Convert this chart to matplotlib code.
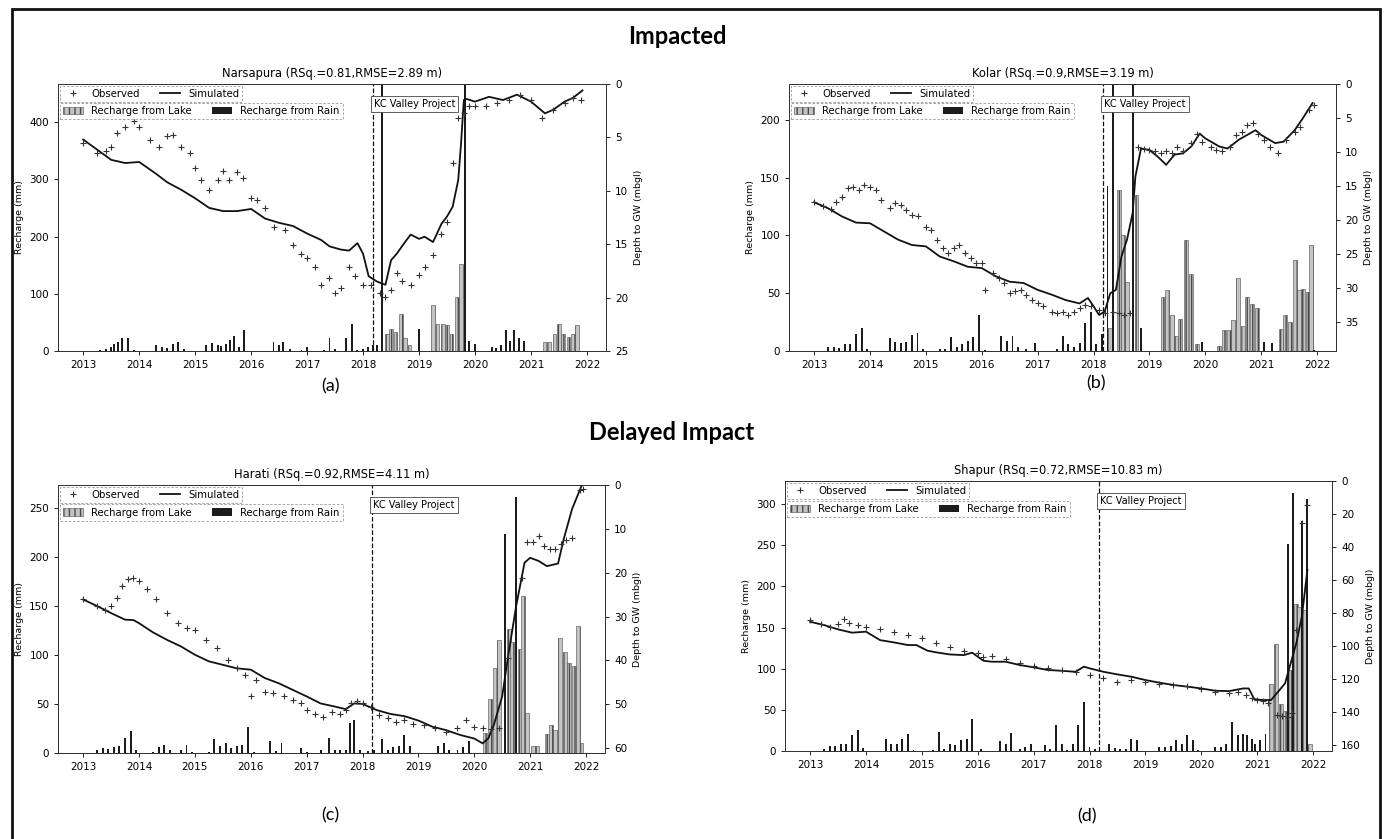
import matplotlib
matplotlib.use('Agg')
import matplotlib.pyplot as plt
from matplotlib.patches import Patch, Rectangle
from matplotlib.lines import Line2D

# ---------------- data ----------------
# depth to GW (m below ground) on the right axis, recharge (mm) on the left

# (a) Narsapura
a_sim_t = [2013.0, 2013.5, 2013.75, 2014.0, 2014.3, 2014.5, 2014.75, 2015.0, 2015.25, 2015.5, 2015.75,
           2016.0, 2016.25, 2016.5, 2016.75, 2017.0, 2017.25, 2017.4, 2017.6, 2017.75, 2017.9,
           2018.0, 2018.1, 2018.25, 2018.4, 2018.5, 2018.6, 2018.75, 2018.85, 2019.0, 2019.1, 2019.25,
           2019.4, 2019.5, 2019.6, 2019.7, 2019.75, 2019.8, 2019.85, 2020.0, 2020.25, 2020.5, 2020.75,
           2021.0, 2021.25, 2021.4, 2021.6, 2021.75, 2021.92]
a_sim_d = [5.2, 7.1, 7.4, 7.3, 8.4, 9.2, 9.9, 10.7, 11.6, 11.9, 11.9,
           11.7, 12.6, 13.0, 13.3, 14.0, 14.6, 15.2, 15.5, 15.6, 14.9,
           15.9, 18.0, 18.5, 18.8, 16.5, 15.9, 14.8, 14.1, 14.5, 14.3, 14.8,
           13.1, 12.4, 11.5, 9.0, 5.6, 1.5, 1.4, 1.65, 1.2, 1.5, 1.0,
           1.65, 2.75, 2.4, 1.65, 1.3, 0.6]
a_obs_t = [2013.0, 2013.25, 2013.4, 2013.5, 2013.6, 2013.75, 2013.9, 2014.0, 2014.2, 2014.35, 2014.5,
           2014.6, 2014.75, 2014.9, 2015.0, 2015.1, 2015.25, 2015.4, 2015.5, 2015.6, 2015.75, 2015.85,
           2016.0, 2016.1, 2016.25, 2016.4, 2016.6, 2016.75, 2016.9, 2017.0, 2017.15, 2017.25, 2017.4,
           2017.5, 2017.6, 2017.75, 2017.85, 2018.0, 2018.15, 2018.3, 2018.4, 2018.5, 2018.6, 2018.7,
           2018.85, 2019.0, 2019.1, 2019.25, 2019.4, 2019.5, 2019.6, 2019.7, 2019.8, 2019.9, 2020.0,
           2020.2, 2020.4, 2020.6, 2020.8, 2021.0, 2021.2, 2021.4, 2021.6, 2021.75, 2021.9]
a_obs_d = [5.5, 6.5, 6.3, 5.9, 4.6, 4.0, 3.5, 4.0, 5.2, 5.9, 4.9,
           4.8, 5.9, 6.5, 7.9, 9.0, 9.9, 9.0, 8.1, 9.0, 8.2, 8.8,
           10.7, 10.9, 11.6, 13.4, 13.7, 15.1, 15.9, 16.3, 17.1, 18.8, 18.2,
           19.6, 19.1, 17.1, 18.0, 18.8, 18.8, 19.6, 19.9, 19.3, 17.7, 18.4,
           18.8, 17.9, 17.1, 16.0, 14.0, 12.9, 7.4, 3.2, 2.7, 2.1, 2.1,
           2.1, 1.8, 1.5, 1.0, 1.5, 3.2, 2.4, 1.8, 1.3, 1.5]
a_rain_t = [2013.3, 2013.4, 2013.5, 2013.55, 2013.62, 2013.7, 2013.8, 2013.9, 2014.3, 2014.4, 2014.5,
            2014.6, 2014.7, 2014.8, 2015.2, 2015.3, 2015.4, 2015.47, 2015.55, 2015.62, 2015.7, 2015.78,
            2015.88, 2016.4, 2016.5, 2016.57, 2016.7, 2016.9, 2017.0, 2017.3, 2017.4, 2017.5, 2017.7,
            2017.8, 2017.9, 2018.0, 2018.08, 2018.17, 2018.25, 2018.33, 2019.0, 2019.82, 2019.9, 2020.0,
            2020.3, 2020.38, 2020.46, 2020.55, 2020.62, 2020.7, 2020.78, 2020.87]
a_rain_v = [2, 4, 7, 13, 16, 22, 22, 2, 10, 7, 6,
            13, 16, 4, 10, 14, 10, 8, 13, 19, 26, 7,
            36, 16, 10, 16, 4, 2, 7, 2, 23, 4, 22,
            48, 2, 4, 7, 10, 10, 520, 39, 520, 17, 13,
            7, 6, 10, 36, 17, 36, 23, 17]
a_lake_t = [2018.42, 2018.5, 2018.58, 2018.67, 2018.75, 2018.83, 2019.25, 2019.33, 2019.42, 2019.5,
            2019.58, 2019.67, 2019.75, 2021.25, 2021.33, 2021.42, 2021.5, 2021.58, 2021.67, 2021.75, 2021.83]
a_lake_v = [30, 39, 33, 65, 23, 10, 80, 48, 47, 45,
            30, 95, 153, 16, 16, 30, 48, 30, 25, 30, 45]

# (b) Kolar
b_sim_t = [2013.0, 2013.25, 2013.5, 2013.75, 2014.0, 2014.25, 2014.5, 2014.75, 2015.0, 2015.25,
           2015.5, 2015.75, 2016.0, 2016.25, 2016.5, 2016.75, 2017.0, 2017.25, 2017.5, 2017.75,
           2017.9, 2018.0, 2018.1, 2018.2, 2018.3, 2018.4, 2018.5, 2018.6, 2018.7, 2018.75,
           2018.85, 2019.0, 2019.15, 2019.3, 2019.45, 2019.6, 2019.75, 2019.9, 2020.0, 2020.25,
           2020.4, 2020.6, 2020.75, 2020.9, 2021.0, 2021.25, 2021.4, 2021.6, 2021.75, 2021.92]
b_sim_d = [17.4, 18.3, 19.5, 20.4, 20.5, 21.7, 22.9, 23.7, 23.9, 25.4,
           26.1, 26.9, 27.1, 28.3, 29.1, 29.3, 30.3, 31.0, 31.8, 32.3,
           31.5, 32.7, 34.0, 33.5, 30.8, 30.3, 25.4, 22.9, 19.0, 13.6,
           9.5, 9.7, 10.7, 11.9, 10.4, 10.2, 9.2, 7.3, 8.0, 9.2,
           9.5, 8.2, 7.5, 6.8, 7.5, 8.7, 8.5, 6.8, 5.0, 2.8]
b_obs_t = [2013.0, 2013.15, 2013.3, 2013.4, 2013.5, 2013.6, 2013.7, 2013.8, 2013.9,
           2014.0, 2014.1, 2014.2, 2014.35, 2014.45, 2014.55, 2014.65, 2014.75, 2014.85,
           2015.0, 2015.1, 2015.2, 2015.3, 2015.4, 2015.5, 2015.6, 2015.7, 2015.8, 2015.9,
           2016.0, 2016.05, 2016.2, 2016.3, 2016.4, 2016.5, 2016.6, 2016.7, 2016.8, 2016.9,
           2017.0, 2017.1, 2017.25, 2017.35, 2017.45, 2017.55, 2017.65, 2017.75, 2017.85, 2017.95,
           2018.1, 2018.2, 2018.35, 2018.45, 2018.55, 2018.65, 2018.8, 2018.9,
           2019.0, 2019.1, 2019.2, 2019.3, 2019.4, 2019.5, 2019.6, 2019.75, 2019.85, 2019.95,
           2020.1, 2020.2, 2020.3, 2020.45, 2020.55, 2020.65, 2020.75, 2020.85, 2020.95,
           2021.05, 2021.15, 2021.3, 2021.45, 2021.6, 2021.7, 2021.85, 2021.95]
b_obs_d = [17.4, 17.9, 18.4, 17.3, 16.6, 15.3, 15.1, 15.6, 14.9,
           15.1, 15.6, 17.1, 18.3, 17.5, 17.8, 18.5, 19.3, 19.4,
           21.0, 21.5, 22.9, 24.2, 24.9, 24.2, 23.7, 24.9, 25.6, 26.4,
           26.4, 30.3, 27.8, 28.6, 29.3, 30.8, 30.5, 30.3, 31.0, 31.8,
           32.3, 32.7, 33.5, 33.7, 33.5, 34.0, 33.5, 33.0, 32.5, 32.7,
           33.2, 33.7, 33.5, 33.7, 34.0, 33.7, 9.2, 9.5,
           9.7, 9.9, 10.2, 9.9, 10.2, 9.2, 9.9, 8.7, 7.3, 8.5,
           9.2, 9.7, 9.9, 9.2, 7.5, 7.0, 6.0, 5.8, 7.3,
           8.2, 9.2, 10.2, 8.2, 7.0, 6.3, 3.8, 3.1]
b_rain_t = [2013.25, 2013.35, 2013.45, 2013.55, 2013.65, 2013.75, 2013.85, 2013.95,
            2014.35, 2014.45, 2014.55, 2014.65, 2014.75, 2014.85, 2014.95,
            2015.25, 2015.35, 2015.45, 2015.55, 2015.65, 2015.75, 2015.85, 2015.95,
            2016.05, 2016.35, 2016.45, 2016.55, 2016.65, 2016.8, 2016.95,
            2017.35, 2017.45, 2017.55, 2017.65, 2017.75, 2017.85, 2017.95,
            2018.05, 2018.15, 2018.25, 2018.35, 2018.7, 2018.85, 2019.95, 2021.05, 2021.2, 2021.95]
b_rain_v = [3.5, 3.5, 3, 6, 6, 15, 20, 2,
            11, 8, 7, 8, 14, 16, 2,
            2, 2, 12, 3.5, 6, 9, 12, 31,
            1, 13, 9, 13, 3.5, 2, 7,
            2, 13, 6, 3.5, 7, 24, 34,
            6, 15, 143, 260, 260, 20, 8, 8, 7, 1]
b_lake_t = [2018.3, 2018.45, 2018.52, 2018.6, 2018.77,
            2019.25, 2019.32, 2019.4, 2019.47, 2019.55, 2019.65, 2019.75, 2019.85,
            2020.25, 2020.33, 2020.42, 2020.5, 2020.58, 2020.67, 2020.75, 2020.83, 2020.92,
            2021.35, 2021.43, 2021.52, 2021.6, 2021.68, 2021.75, 2021.83, 2021.9]
b_lake_v = [20, 139, 100, 60, 135,
            47, 53, 31, 13, 28, 96, 67, 6,
            4, 18, 18, 27, 63, 22, 47, 41, 37,
            19, 31, 25, 79, 53, 54, 51, 92]

# (c) Harati
c_sim_t = [2013.0, 2013.25, 2013.5, 2013.75, 2013.9, 2014.0, 2014.25, 2014.5, 2014.75,
           2015.0, 2015.25, 2015.5, 2015.75, 2016.0, 2016.25, 2016.5, 2016.75,
           2017.0, 2017.25, 2017.5, 2017.7, 2017.85, 2018.0, 2018.25, 2018.5, 2018.75,
           2019.0, 2019.25, 2019.5, 2019.75, 2020.0, 2020.15, 2020.25, 2020.35, 2020.5, 2020.6,
           2020.75, 2020.9, 2021.0, 2021.15, 2021.3, 2021.5, 2021.6, 2021.75, 2021.92]
c_sim_d = [26.1, 27.6, 29.2, 30.7, 30.8, 31.5, 33.6, 35.3, 36.8,
           38.7, 40.2, 41.0, 41.8, 42.1, 44.0, 45.2, 46.7,
           48.2, 49.8, 50.5, 51.1, 49.8, 49.9, 51.3, 52.2, 52.7,
           53.7, 55.1, 55.9, 57.0, 57.8, 58.9, 57.8, 54.7, 48.2, 39.5,
           27.6, 17.7, 16.6, 17.3, 18.5, 17.9, 12.4, 5.5, 0.2]
c_obs_t = [2013.0, 2013.25, 2013.4, 2013.5, 2013.6, 2013.7, 2013.8, 2013.9,
           2014.0, 2014.15, 2014.3, 2014.5, 2014.7, 2014.85,
           2015.0, 2015.2, 2015.4, 2015.6, 2015.75, 2015.9,
           2016.0, 2016.1, 2016.25, 2016.4, 2016.6, 2016.75, 2016.9,
           2017.0, 2017.15, 2017.3, 2017.45, 2017.6, 2017.7, 2017.8, 2017.9,
           2018.0, 2018.15, 2018.3, 2018.45, 2018.6, 2018.75, 2018.9,
           2019.1, 2019.3, 2019.5, 2019.7, 2019.85,
           2020.0, 2020.15, 2020.3, 2020.45, 2020.6, 2020.85, 2020.95,
           2021.05, 2021.15, 2021.25, 2021.35, 2021.45, 2021.55, 2021.65, 2021.75, 2021.9, 2021.95]
c_obs_d = [26.1, 27.6, 28.4, 27.6, 25.7, 23.1, 21.5, 21.1,
           21.9, 23.8, 26.1, 29.2, 31.5, 32.6,
           33.0, 35.3, 37.2, 39.8, 41.8, 43.3,
           48.2, 44.5, 47.1, 47.5, 48.1, 49.0, 49.8,
           51.3, 52.1, 52.8, 51.7, 52.1, 51.3, 49.8, 49.2,
           49.8, 50.5, 52.4, 53.2, 54.0, 53.6, 54.4,
           54.7, 55.5, 56.3, 55.5, 53.6,
           55.1, 55.5, 55.7, 55.5, 39.5, 21.1, 13.0,
           13.1, 11.6, 13.9, 14.7, 14.7, 13.5, 12.5, 12.0, 1.1, 0.9]
c_rain_t = [2013.25, 2013.35, 2013.45, 2013.55, 2013.65, 2013.75, 2013.85, 2013.95,
            2014.25, 2014.35, 2014.45, 2014.55, 2014.75, 2014.85, 2014.95,
            2015.25, 2015.35, 2015.45, 2015.55, 2015.65, 2015.75, 2015.85, 2015.95,
            2016.05, 2016.35, 2016.45, 2016.55, 2016.9,
            2017.0, 2017.25, 2017.4, 2017.5, 2017.6, 2017.7, 2017.77, 2017.85, 2017.95,
            2018.1, 2018.2, 2018.35, 2018.45, 2018.55, 2018.65, 2018.75, 2018.85,
            2019.35, 2019.45, 2019.55, 2019.7, 2019.8, 2019.9, 2020.55, 2020.75]
c_rain_v = [3.4, 5, 4, 6, 7, 15, 22, 3,
            1, 6, 8.5, 3.4, 3, 8.5, 1,
            1, 14, 7, 10, 5, 7.5, 8.5, 27,
            1, 12, 2, 10, 5,
            1, 3, 15, 3, 3, 3, 31, 34, 3,
            2, 3, 14, 3, 6, 7, 18, 7.5,
            7, 10, 3, 3, 6, 12, 224, 262]
c_lake_t = [2020.2, 2020.28, 2020.37, 2020.45, 2020.62, 2020.68, 2020.82, 2020.88, 2020.95,
            2021.05, 2021.12, 2021.3, 2021.38, 2021.45, 2021.53, 2021.62, 2021.7, 2021.78, 2021.85, 2021.92]
c_lake_v = [20, 55, 87, 116, 127, 113, 106, 161, 41,
            7, 7, 19, 29, 24, 118, 103, 92, 89, 130, 10]

# (d) Shapur
d_sim_t = [2013.0, 2013.25, 2013.5, 2013.75, 2014.0, 2014.25, 2014.5, 2014.75, 2014.9,
           2015.1, 2015.25, 2015.5, 2015.75, 2015.9, 2016.1, 2016.25, 2016.5, 2016.75,
           2017.0, 2017.25, 2017.5, 2017.75, 2017.9, 2018.0, 2018.25, 2018.5, 2018.75,
           2019.0, 2019.25, 2019.5, 2019.75, 2020.0, 2020.25, 2020.5, 2020.75, 2020.85, 2020.95,
           2021.1, 2021.25, 2021.4, 2021.5, 2021.6, 2021.7, 2021.8, 2021.9]
d_sim_d = [85.3, 87.3, 89.9, 91.9, 91.3, 96.4, 97.8, 99.4, 99.4,
           102.8, 103.8, 105.1, 105.5, 104.0, 108.9, 109.5, 109.5, 111.5,
           112.9, 114.5, 115.0, 115.6, 112.5, 113.5, 115.6, 117.2, 118.6,
           120.6, 122.2, 123.6, 124.6, 125.7, 127.1, 127.3, 125.7, 125.7, 132.3,
           132.7, 132.7, 126.7, 122.6, 110.5, 98.4, 82.2, 53.9]
d_obs_t = [2013.0, 2013.2, 2013.35, 2013.5, 2013.6, 2013.7, 2013.85,
           2014.0, 2014.25, 2014.5, 2014.75, 2015.0, 2015.25, 2015.5, 2015.75,
           2016.0, 2016.1, 2016.25, 2016.5, 2016.75, 2017.0, 2017.25, 2017.5, 2017.75,
           2018.0, 2018.25, 2018.5, 2018.75, 2019.0, 2019.25, 2019.5, 2019.75,
           2020.0, 2020.25, 2020.5, 2020.65, 2020.8, 2020.9,
           2021.0, 2021.1, 2021.2, 2021.35, 2021.45, 2021.55, 2021.62, 2021.7, 2021.8, 2021.9]
d_obs_d = [84.2, 86.7, 88.3, 86.7, 83.8, 86.3, 87.3,
           88.3, 89.9, 91.3, 93.3, 95.4, 98.4, 100.8, 102.8,
           104.4, 106.5, 106.1, 108.1, 110.1, 112.1, 113.5, 114.5, 115.6,
           117.6, 119.6, 121.6, 120.6, 121.6, 123.0, 123.6, 124.2,
           126.3, 127.7, 128.3, 127.7, 129.7, 131.7,
           132.7, 133.1, 134.7, 141.8, 142.4, 142.8, 140.8, 90.3, 25.7, 14.5]
d_rain_t = [2013.25, 2013.35, 2013.45, 2013.55, 2013.65, 2013.75, 2013.85, 2013.95,
            2014.35, 2014.45, 2014.55, 2014.65, 2014.75, 2014.85,
            2015.2, 2015.3, 2015.4, 2015.5, 2015.6, 2015.7, 2015.8, 2015.9,
            2016.05, 2016.4, 2016.5, 2016.6, 2016.75, 2016.85, 2016.95,
            2017.2, 2017.3, 2017.4, 2017.5, 2017.6, 2017.7, 2017.8, 2017.9,
            2018.0, 2018.1, 2018.35, 2018.45, 2018.55, 2018.65, 2018.75, 2018.85,
            2019.25, 2019.35, 2019.45, 2019.55, 2019.65, 2019.75, 2019.85, 2019.95,
            2020.25, 2020.35, 2020.45, 2020.55, 2020.65, 2020.75, 2020.82, 2020.9, 2020.97,
            2021.05, 2021.15, 2021.55, 2021.65, 2021.8, 2021.9]
d_rain_v = [3, 6, 6, 9, 9, 19, 26, 4,
            15, 9, 9, 15, 21, 1,
            1, 23, 3, 9, 7, 13, 15, 39,
            2, 12, 8, 22, 3, 5, 9,
            7, 2, 32, 9, 1, 9, 31, 59,
            5, 2, 9, 4, 3, 3, 15, 13,
            5, 5, 6, 13, 9, 19, 13, 1,
            5, 5, 9, 35, 19, 21, 19, 15, 9,
            13, 21, 252, 313, 280, 306]
d_lake_t = [2021.25, 2021.33, 2021.42, 2021.5, 2021.6, 2021.7, 2021.75, 2021.85, 2021.95]
d_lake_v = [82, 130, 57, 49, 98, 179, 175, 171, 9]

kc_year = 2018.17
years = list(range(2013, 2023))

# ---------------- drawing ----------------
W, H = 1385, 839
fig = plt.figure(figsize=(W / 100, H / 100), dpi=100)
fig.patch.set_facecolor('white')

LAKE_FC, LAKE_EC, RAIN_C = '#c4c4c4', '#4a4a4a', '#1c1c1c'
LEG_FS = 7.3


def fpos(x, y):
    return x / W, 1 - y / H


def style_legend(leg):
    fr = leg.get_frame()
    fr.set_edgecolor('#999999')
    fr.set_linestyle((0, (3, 2)))
    fr.set_linewidth(0.6)


def panel(box, title, sim_t, sim_d, obs_t, obs_d, rain_t, rain_v, lake_t, lake_v,
          ltop, lticks, rbot, rticks, tag, tag_xy):
    x0, y0, x1, y1 = box
    ax = fig.add_axes([x0 / W, 1 - y1 / H, (x1 - x0) / W, (y1 - y0) / H])
    ax.bar(lake_t, lake_v, width=0.07, color=LAKE_FC, edgecolor=LAKE_EC, hatch='|||', linewidth=0.4)
    ax.bar(rain_t, rain_v, width=0.035, color=RAIN_C, linewidth=0)
    ax.set_ylim(0, ltop)
    ax.set_yticks(lticks)
    ax.set_xlim(2012.55, 2022.34)
    ax.set_xticks(years)
    ax.set_ylabel('Recharge (mm)', fontsize=6.8)
    ax.tick_params(labelsize=7.5, length=3, width=0.6)
    for s in ax.spines.values():
        s.set_linewidth(0.7)
        s.set_color('#333333')

    ax2 = ax.twinx()
    ax2.plot(sim_t, sim_d, color='#111111', lw=1.3)
    ax2.plot(obs_t, obs_d, '+', color='#333333', ms=4, mew=0.8)
    ax2.set_ylim(rbot, 0)
    ax2.set_yticks(rticks)
    ax2.set_ylabel('Depth to GW (mbgl)', fontsize=6.8)
    ax2.tick_params(labelsize=7.5, length=3, width=0.6)
    for s in ax2.spines.values():
        s.set_linewidth(0.7)
        s.set_color('#333333')

    ax2.axvline(kc_year, color='#111111', ls='--', lw=0.9)
    ax2.text(kc_year + 0.02, 0.925, 'KC Valley Project', transform=ax2.get_xaxis_transform(),
             ha='left', va='center', fontsize=7,
             bbox=dict(boxstyle='square,pad=0.3', fc='white', ec='#444444', lw=0.6))

    h1 = [Line2D([], [], marker='+', ls='none', color='#333333', ms=4, mew=0.8),
          Line2D([], [], color='#111111', lw=1.3)]
    leg1 = ax2.legend(h1, ['Observed', 'Simulated'], loc='upper left', bbox_to_anchor=(0, 1),
                      ncol=2, fontsize=LEG_FS, fancybox=False, borderaxespad=0.15, framealpha=1,
                      borderpad=0.3)
    style_legend(leg1)
    ax2.add_artist(leg1)
    h2 = [Patch(fc=LAKE_FC, ec=LAKE_EC, hatch='|||', lw=0.4), Patch(fc=RAIN_C)]
    leg2 = ax2.legend(h2, ['Recharge from Lake', 'Recharge from Rain'], loc='upper left',
                      bbox_to_anchor=(0, 0.933), ncol=2, fontsize=LEG_FS, fancybox=False,
                      borderaxespad=0.15, framealpha=1, borderpad=0.3)
    style_legend(leg2)

    ax.set_title(title, fontsize=8.3, pad=5)
    tx, ty = fpos(*tag_xy)
    fig.text(tx, ty, tag, ha='center', va='center', fontsize=13, family='Lato')


panel((58, 84, 606, 351), 'Narsapura (RSq.=0.81,RMSE=2.89 m)',
      a_sim_t, a_sim_d, a_obs_t, a_obs_d, a_rain_t, a_rain_v, a_lake_t, a_lake_v,
      467, [0, 100, 200, 300, 400], 25, [0, 5, 10, 15, 20, 25], '(a)', (330, 386))
panel((789, 84, 1336, 351), 'Kolar (RSq.=0.9,RMSE=3.19 m)',
      b_sim_t, b_sim_d, b_obs_t, b_obs_d, b_rain_t, b_rain_v, b_lake_t, b_lake_v,
      231, [0, 50, 100, 150, 200], 39.3, [0, 5, 10, 15, 20, 25, 30, 35], '(b)', (1096, 383))
panel((58, 485, 605, 753), 'Harati (RSq.=0.92,RMSE=4.11 m)',
      c_sim_t, c_sim_d, c_obs_t, c_obs_d, c_rain_t, c_rain_v, c_lake_t, c_lake_v,
      274, [0, 50, 100, 150, 200, 250], 61.1, [0, 10, 20, 30, 40, 50, 60], '(c)', (330, 815))
panel((785, 481, 1332, 751), 'Shapur (RSq.=0.72,RMSE=10.83 m)',
      d_sim_t, d_sim_d, d_obs_t, d_obs_d, d_rain_t, d_rain_v, d_lake_t, d_lake_v,
      328, [0, 50, 100, 150, 200, 250, 300], 163.6, [0, 20, 40, 60, 80, 100, 120, 140, 160],
      '(d)', (1087, 816))

# section headings
x, y = fpos(677, 37)
fig.text(x, y, 'Impacted', ha='center', va='center', fontsize=17, family='Lato', weight='bold')
x, y = fpos(672, 432)
fig.text(x, y, 'Delayed Impact', ha='center', va='center', fontsize=17, family='Lato', weight='bold')

# outer frame of the figure
fig.patches.append(Rectangle((12 / W, -0.02), (1380 - 12) / W, 1.02 - 9 / H,
                             transform=fig.transFigure, fill=False, ec='#111111', lw=2))

fig.savefig('out.png', dpi=100)
